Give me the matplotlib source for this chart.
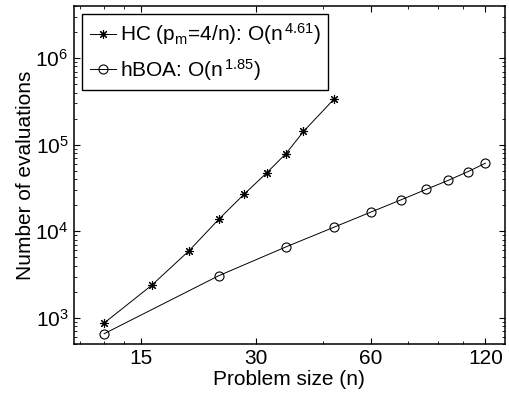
import matplotlib
matplotlib.use("Agg")
import matplotlib.pyplot as plt
from matplotlib.ticker import FixedLocator, NullFormatter, LogLocator

plt.rcParams.update({
    "font.family": ["Liberation Sans", "DejaVu Sans"],
    "font.size": 15,
    "mathtext.fontset": "custom",
    "mathtext.rm": "Liberation Sans",
    "mathtext.it": "Liberation Sans",
    "mathtext.bf": "Liberation Sans:bold",
    "axes.linewidth": 1.1,
})

# data
hc_n = [12, 16, 20, 24, 28, 32, 36, 40, 48]
hc_evals = [870, 2380, 5900, 13800, 27000, 47000, 79000, 142000, 333000]
hboa_n = [12, 24, 36, 48, 60, 72, 84, 96, 108, 120]
hboa_evals = [655, 3070, 6600, 11100, 16600, 23000, 30500, 38800, 48800, 61000]

x_ticks = [15, 30, 60, 120]
x_minor = [10.4, 12, 13.5, 45, 75, 90, 105]

fig = plt.figure(figsize=(5.1, 3.98), dpi=100)
ax = fig.add_axes([0.145, 0.136, 0.845, 0.849])

ax.plot(hc_n, hc_evals, color="k", lw=0.7, marker=(8, 2, 0), ms=6.5, mew=0.8,
        label=r"HC (p$_{m}$=4/n): O(n$^{\,4.61}$)")
ax.plot(hboa_n, hboa_evals, color="k", lw=0.7, marker="o", ms=6.5, mfc="none",
        mew=0.8, label=r"hBOA: O(n$^{\,1.85}$)")

ax.set_xscale("log")
ax.set_yscale("log")
ax.set_xlim(10, 135)
ax.set_ylim(500, 4e6)

ax.xaxis.set_major_locator(FixedLocator(x_ticks))
ax.xaxis.set_minor_locator(FixedLocator(x_minor))
ax.set_xticklabels([str(t) for t in x_ticks])
ax.xaxis.set_minor_formatter(NullFormatter())
ax.yaxis.set_major_locator(LogLocator(base=10, numticks=10))
ax.yaxis.set_minor_locator(LogLocator(base=10, subs=range(2, 10), numticks=10))
ax.yaxis.set_minor_formatter(NullFormatter())

ax.tick_params(which="both", direction="in", top=True, right=True)
ax.tick_params(which="major", length=4, width=0.8, pad=4)
ax.tick_params(which="minor", length=2, width=0.6)

ax.set_xlabel("Problem size (n)", labelpad=1)
ax.set_ylabel("Number of evaluations", labelpad=0)

leg = ax.legend(loc="upper left", fancybox=False, edgecolor="k", framealpha=1,
                handlelength=1.25, handletextpad=0.2, borderpad=0.35,
                labelspacing=0.45, borderaxespad=0.4)
leg.get_frame().set_linewidth(1.0)

fig.savefig("out.png", dpi=100)
